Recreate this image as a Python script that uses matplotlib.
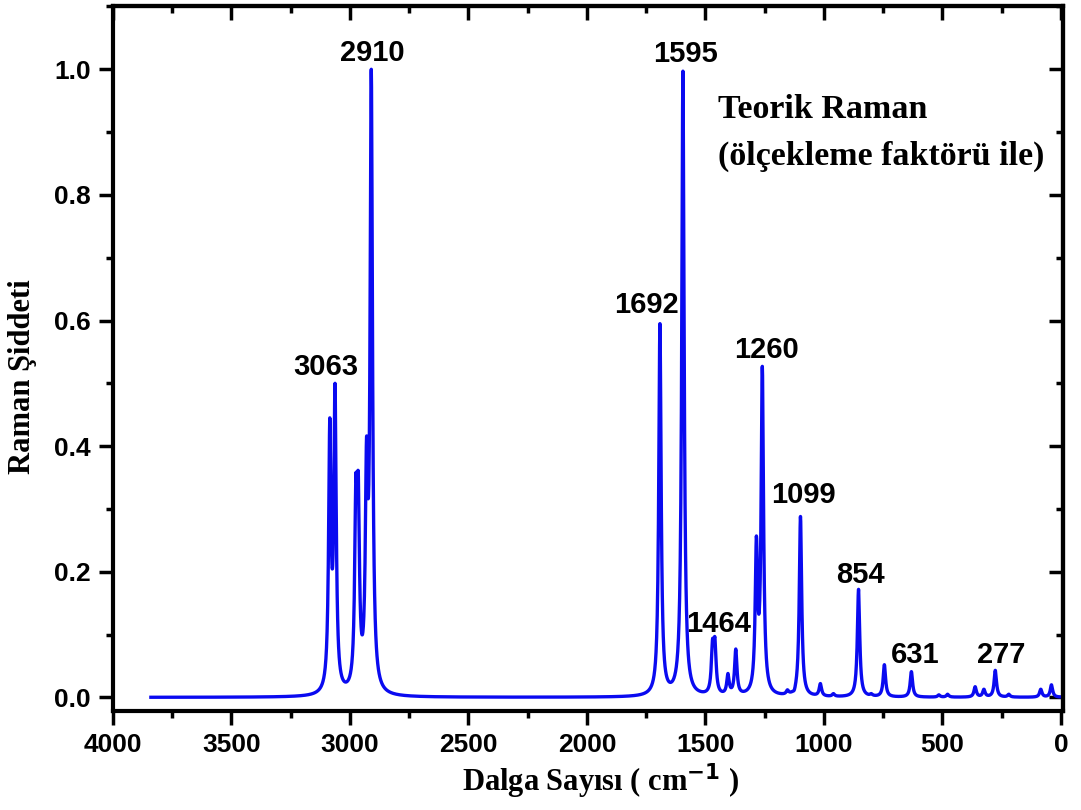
import numpy as np
import matplotlib
matplotlib.use('Agg')
import matplotlib.pyplot as plt
from matplotlib.ticker import MultipleLocator

peak_pos = [3085, 3063, 2975, 2965, 2930, 2910,
            1692, 1595, 1470, 1460, 1405, 1372, 1285, 1260,
            1154, 1125, 1099, 1015, 960, 854, 800, 745, 631,
            515, 478, 362, 325, 277, 220, 85, 40]
peak_height = [0.445, 0.50, 0.354, 0.358, 0.415, 1.0,
               0.595, 0.997, 0.093, 0.096, 0.038, 0.077, 0.257, 0.527,
               0.012, 0.012, 0.288, 0.022, 0.006, 0.172, 0.006, 0.052, 0.041,
               0.004, 0.005, 0.017, 0.013, 0.043, 0.005, 0.013, 0.02]
hwhm = 6.0

# Labelled peaks and where their labels sit
label_text = ['2910', '1595', '3063', '1692', '1260', '1099', '1464', '854', '631', '277']
label_x = [2906, 1583, 3100, 1748, 1241, 1085, 1444, 848, 616, 253]
label_y = [1.013, 1.011, 0.514, 0.612, 0.541, 0.309, 0.104, 0.182, 0.054, 0.054]

x_min, x_max = 0, 3840


def lorentz(x, x0, g):
    return g ** 2 / ((x - x0) ** 2 + g ** 2)


# amplitudes so that the summed curve reaches the read heights at the peak positions
pos = np.array(peak_pos, dtype=float)
m = lorentz(pos[:, None], pos[None, :], hwhm)
amps = np.linalg.solve(m, np.array(peak_height))

wn = np.arange(x_min, x_max + 0.5, 0.5)
spectrum = sum(a * lorentz(wn, p, hwhm) for a, p in zip(amps, pos))

fig = plt.figure(figsize=(10.81, 8.10), dpi=100)
ax = fig.add_axes([0.1045, 0.122, 0.8787, 0.870])

ax.plot(wn, spectrum, color='#0a0af0', lw=2.4)

ax.set_xlim(4000, -8)
ax.set_ylim(-0.022, 1.10)

ax.xaxis.set_major_locator(MultipleLocator(500))
ax.xaxis.set_minor_locator(MultipleLocator(250))
ax.yaxis.set_major_locator(MultipleLocator(0.2))
ax.yaxis.set_minor_locator(MultipleLocator(0.1))
ax.yaxis.set_major_formatter(plt.FuncFormatter(lambda v, _: f'{v:.1f}'))

for s in ax.spines.values():
    s.set_linewidth(3.0)

ax.tick_params(which='both', direction='out', width=2.5, top=False, right=False)
ax.tick_params(which='major', length=10, pad=6)
ax.tick_params(which='minor', length=5)

# mirrored inward ticks on top and right
sec_x = ax.secondary_xaxis('top')
sec_x.xaxis.set_major_locator(MultipleLocator(500))
sec_x.xaxis.set_minor_locator(MultipleLocator(250))
sec_x.tick_params(which='both', direction='in', width=2.5, labeltop=False)
sec_x.tick_params(which='major', length=10)
sec_x.tick_params(which='minor', length=5)
sec_x.spines['top'].set_linewidth(3.0)
sec_y = ax.secondary_yaxis('right')
sec_y.yaxis.set_major_locator(MultipleLocator(0.2))
sec_y.yaxis.set_minor_locator(MultipleLocator(0.1))
sec_y.tick_params(which='both', direction='in', width=2.5, labelright=False)
sec_y.tick_params(which='major', length=10)
sec_y.tick_params(which='minor', length=5)
sec_y.spines['right'].set_linewidth(3.0)

for lab in ax.get_xticklabels() + ax.get_yticklabels():
    lab.set_fontfamily('Liberation Sans')
    lab.set_fontweight('bold')
    lab.set_fontsize(19)

serif = {'family': 'Liberation Serif', 'weight': 'bold', 'size': 22}
ax.set_xlabel('Dalga Sayısı ( cm$^{\\mathbf{-1}}$ )', fontdict=serif)
ax.xaxis.set_label_coords(0.513, -0.071)
ax.set_ylabel('Raman Şiddeti', fontdict=serif)
ax.yaxis.set_label_coords(-0.08, 0.475)

for t, lx, ly in zip(label_text, label_x, label_y):
    ax.text(lx, ly, t, ha='center', va='baseline', fontsize=21,
            fontweight='bold', family='Liberation Sans')

ax.text(1448, 0.923, 'Teorik Raman', ha='left', va='baseline',
        family='Liberation Serif', fontweight='bold', fontsize=24.5)
ax.text(1448, 0.848, '(ölçekleme faktörü ile)', ha='left', va='baseline',
        family='Liberation Serif', fontweight='bold', fontsize=24.5)

fig.savefig('out.png', dpi=100)
